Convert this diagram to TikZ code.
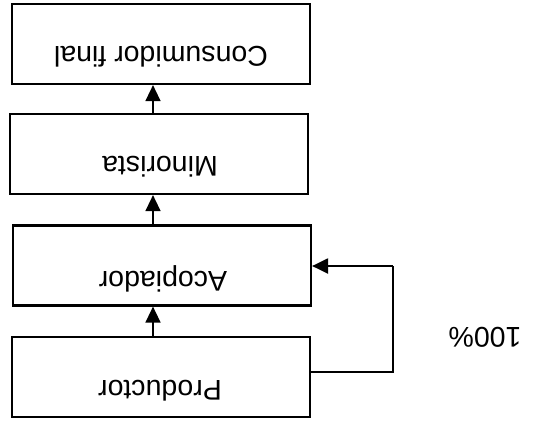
\documentclass[tikz,border=0pt]{standalone}
\usepackage{fontspec}
\setmainfont{Liberation Sans}
\usetikzlibrary{arrows.meta}
\begin{document}
\begin{tikzpicture}[x=1pt,y=-1pt,
  box/.style={draw=black, line width=2.2pt, minimum width=298pt, minimum height=80pt, inner sep=0pt},
  lbl/.style={rotate=180, inner sep=0pt, font=\fontsize{28.5}{30}\selectfont},
  arr/.style={line width=1.5pt, -{Triangle[length=16pt,width=15pt]}}]
\useasboundingbox (0,0) rectangle (553,421);
\node[box] (cf) at (161,44) {};
\node[box] (mi) at (159,154) {};
\node[box] (ac) at (162,265.5) {};
\node[box] (pr) at (161,377) {};
\node[lbl] (tcf) at (161,57) {Consumidor final};
\node[lbl] (tmi) at (160,167) {Minorista};
\node[lbl] (tac) at (163,279) {Acopiador};
\node[lbl] (tpr) at (160,391) {Productor};
\node[lbl] (tpc) at (485,337) {100\%};
\coordinate (col) at (153,0);
\coordinate (loopx) at (393,0);
\draw[arr] (pr.north -| col) -- (ac.south -| col);
\draw[arr] (ac.north -| col) -- (mi.south -| col);
\draw[arr] (mi.north -| col) -- (cf.south -| col);
\coordinate (lp1) at (pr.east |- 0,372);
\coordinate (lp2) at (ac.east |- 0,266);
\draw[line width=2.2pt] (lp1) -| (loopx |- lp2);
\draw[arr, line width=2.2pt] (loopx |- lp2) -- (lp2);
\end{tikzpicture}
\end{document}
